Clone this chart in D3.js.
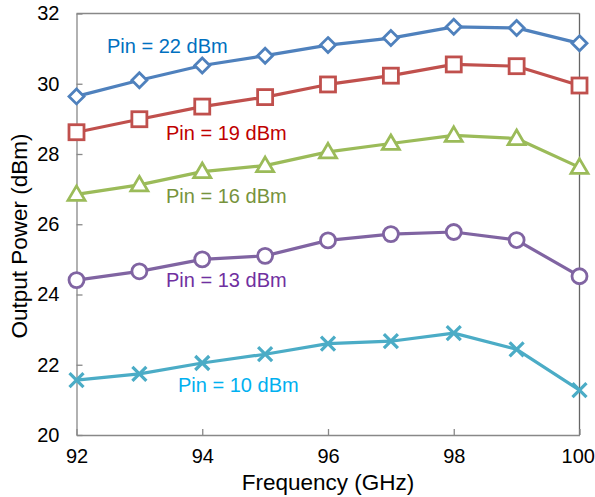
<!DOCTYPE html>
<html>
<head>
<meta charset="utf-8">
<script src="https://cdn.jsdelivr.net/npm/d3@7"></script>
<style>
  body { margin: 0; background: #fff; }
  text { font-family: "Liberation Sans", Arial, sans-serif; }
</style>
</head>
<body>
<svg id="chart" width="595" height="497"></svg>
<script>
const frequencies = [92, 93, 94, 95, 96, 97, 98, 99, 100];
const pin22 = [29.64, 30.1, 30.52, 30.8, 31.1, 31.3, 31.62, 31.59, 31.15];
const pin19 = [28.62, 28.99, 29.35, 29.62, 29.98, 30.23, 30.55, 30.5, 29.95];
const pin16 = [26.85, 27.12, 27.5, 27.67, 28.06, 28.3, 28.53, 28.44, 27.62];
const pin13 = [24.41, 24.66, 25.0, 25.1, 25.54, 25.72, 25.78, 25.55, 24.52];
const pin10 = [21.56, 21.74, 22.05, 22.3, 22.6, 22.67, 22.9, 22.44, 21.28];
const seriesNames = ["Pin = 22 dBm", "Pin = 19 dBm", "Pin = 16 dBm", "Pin = 13 dBm", "Pin = 10 dBm"];
const xTicks = [92, 94, 96, 98, 100];
const yTicks = [20, 22, 24, 26, 28, 30, 32];

const series = [
  { name: seriesNames[0], values: pin22, color: "#4F81BD", text: "#0070C0", marker: "diamond", lx: 107, ly: 53 },
  { name: seriesNames[1], values: pin19, color: "#C0504D", text: "#C00000", marker: "square", lx: 166, ly: 140 },
  { name: seriesNames[2], values: pin16, color: "#9BBB59", text: "#77933C", marker: "triangle", lx: 166, ly: 203 },
  { name: seriesNames[3], values: pin13, color: "#8064A2", text: "#7030A0", marker: "circle", lx: 166, ly: 287 },
  { name: seriesNames[4], values: pin10, color: "#4BACC6", text: "#00B0F0", marker: "cross", lx: 178, ly: 392 }
];

const svg = d3.select("#chart");
const L = 76.5, R = 579.5, T = 13.5, B = 435;
const x = d3.scaleLinear().domain([92, 100]).range([L, R]);
const y = d3.scaleLinear().domain([20, 32]).range([B, T]);

// frame (top & right)
svg.append("line").attr("x1", L).attr("x2", R).attr("y1", T).attr("y2", T)
  .attr("stroke", "#888").attr("stroke-width", 1.3);
svg.append("line").attr("x1", R).attr("x2", R).attr("y1", T).attr("y2", B)
  .attr("stroke", "#666").attr("stroke-width", 1.3);

// axes
const xAxis = d3.axisBottom(x).tickValues(xTicks).tickSizeInner(-6).tickSizeOuter(0).tickPadding(14);
const gx = svg.append("g").attr("transform", `translate(0,${B})`).call(xAxis);
const yAxis = d3.axisLeft(y).tickValues(yTicks).tickSizeInner(-6).tickSizeOuter(0).tickPadding(17);
const gy = svg.append("g").attr("transform", `translate(${L},0)`).call(yAxis);
[gx, gy].forEach(g => {
  g.select(".domain").attr("stroke", "#888").attr("stroke-width", 1.3);
  g.selectAll(".tick line").attr("stroke", "#888").attr("stroke-width", 1.3);
  g.selectAll(".tick text").attr("fill", "#000").style("font-size", "20px")
    .style("font-family", "'Liberation Sans', Arial, sans-serif");
});
gx.selectAll(".tick text").attr("dy", "0.71em")
  .attr("dx", d => d === 100 ? -1.8 : 0);

// axis titles
svg.append("text").attr("x", (L + R) / 2).attr("y", 490).attr("text-anchor", "middle")
  .style("font-size", "22.5px").attr("fill", "#000").text("Frequency (GHz)");
svg.append("text").attr("transform", "translate(26.5,236) rotate(-90)").attr("text-anchor", "middle")
  .style("font-size", "22.5px").attr("fill", "#000").text("Output Power (dBm)");

const line = d3.line().x((d, i) => x(frequencies[i])).y(d => y(d));

series.forEach(s => {
  const g = svg.append("g");
  g.append("path").datum(s.values).attr("d", line).attr("fill", "none")
    .attr("stroke", s.color).attr("stroke-width", 3.2).attr("stroke-linejoin", "round");
  const pts = g.selectAll(".pt").data(s.values).enter().append("g")
    .attr("transform", (d, i) => `translate(${x(frequencies[i])},${y(d)})`);
  if (s.marker === "diamond") {
    pts.append("path").attr("d", "M0,-7.5L7.5,0L0,7.5L-7.5,0Z")
      .attr("fill", "#fff").attr("stroke", s.color).attr("stroke-width", 2.8);
  } else if (s.marker === "square") {
    pts.append("rect").attr("x", -7.5).attr("y", -7.5).attr("width", 15).attr("height", 15)
      .attr("fill", "#fff").attr("stroke", s.color).attr("stroke-width", 2.8);
  } else if (s.marker === "triangle") {
    pts.append("path").attr("d", "M0,-8.5L8.5,6L-8.5,6Z")
      .attr("fill", "#fff").attr("stroke", s.color).attr("stroke-width", 2.8).attr("stroke-linejoin", "miter");
  } else if (s.marker === "circle") {
    pts.append("circle").attr("r", 7.5)
      .attr("fill", "#fff").attr("stroke", s.color).attr("stroke-width", 2.8);
  } else if (s.marker === "cross") {
    pts.append("path").attr("d", "M-7,-7L7,7M7,-7L-7,7")
      .attr("fill", "none").attr("stroke", s.color).attr("stroke-width", 3.2);
  }
  svg.append("text").attr("x", s.lx).attr("y", s.ly).attr("fill", s.text)
    .style("font-size", "20px").text(s.name);
});
</script>
</body>
</html>
